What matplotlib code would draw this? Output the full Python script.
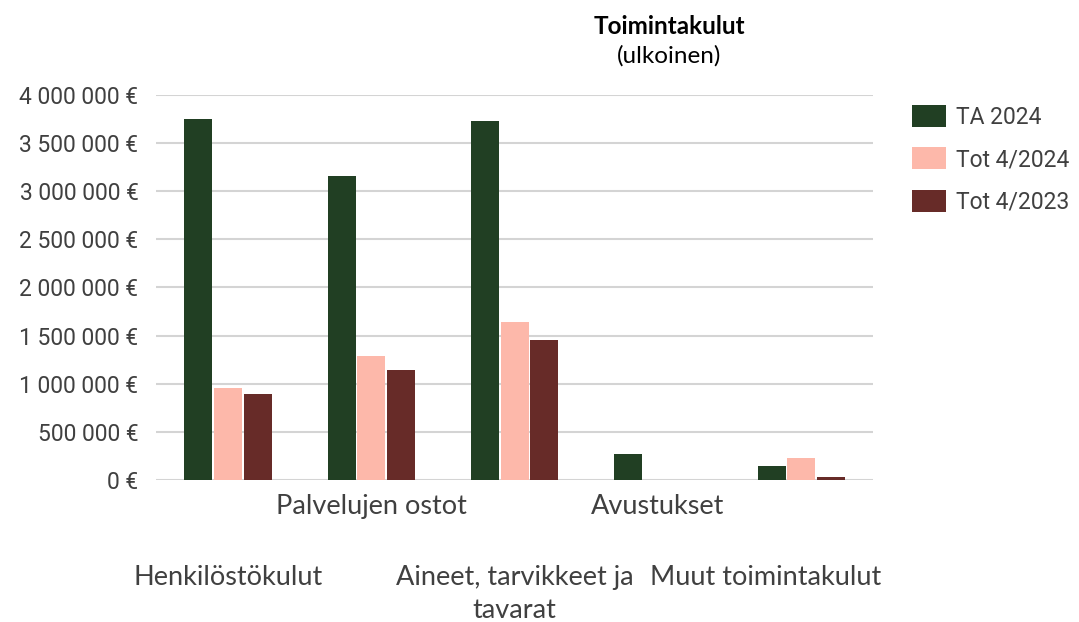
import numpy as np
import matplotlib
matplotlib.use('Agg')
import matplotlib.pyplot as plt
from matplotlib.ticker import FuncFormatter
from matplotlib.transforms import ScaledTranslation

# Tiedot (luettu kuvasta)
kategoriat = ['Henkilöstökulut', 'Palvelujen ostot', 'Aineet, tarvikkeet ja\ntavarat',
              'Avustukset', 'Muut toimintakulut']
sarjat = ['TA 2024', 'Tot 4/2024', 'Tot 4/2023']
ta_2024 = [3745000, 3160000, 3727000, 270000, 150000]
tot_2024 = [951000, 1286000, 1636000, 0, 232000]
tot_2023 = [892000, 1148000, 1459000, 0, 35000]
varit = ['#213F23', '#FDB8AA', '#672B28']

fig = plt.figure(figsize=(10.79, 6.22), dpi=100)
ax = fig.add_axes([0.145, 0.228, 0.664, 0.620])

x = np.arange(len(kategoriat))
w = 0.195
for i, (arvot, nimi) in enumerate(zip([ta_2024, tot_2024, tot_2023], sarjat)):
    ax.bar(x + (i - 1) * (w + 0.012), arvot, w, color=varit[i], label=nimi, zorder=3)

ax.set_xlim(-0.5, len(kategoriat) - 0.5)
ax.set_ylim(0, 4000000)
ax.set_yticks(np.arange(0, 4000001, 500000))
ax.yaxis.set_major_formatter(FuncFormatter(lambda v, p: f'{int(v):,}'.replace(',', ' ') + ' €'))
ax.grid(axis='y', color='#D4D4D4', linewidth=1.5, zorder=0)
for s in ax.spines.values():
    s.set_visible(False)
ax.tick_params(axis='y', length=0, pad=13, labelsize=16.5, labelcolor='#404040')
ax.tick_params(axis='x', length=0, labelsize=19.5, labelcolor='#404040')
for lab in ax.get_yticklabels():
    lab.set_family('Roboto')

ax.set_xticks(x)
ax.set_xticklabels(kategoriat, family='Lato', linespacing=1.4)
for i, t in enumerate(ax.xaxis.get_major_ticks()):
    t.set_pad(10 if i % 2 else 61)

# viimeinen otsikko siirtyy vasemmalle, kuten Excelissä
viimeinen = ax.get_xticklabels()[-1]
viimeinen.set_transform(viimeinen.get_transform() + ScaledTranslation(-0.36, 0, fig.dpi_scale_trans))

fig.text(0.620, 0.958, 'Toimintakulut', ha='center', va='center', fontsize=17.5,
         fontweight='bold', family='Lato')
fig.text(0.620, 0.911, '(ulkoinen)', ha='center', va='center', fontsize=17.5, family='Lato')

ax.legend(loc='upper left', bbox_to_anchor=(1.055, 0.972), frameon=False,
          prop={'family': 'Roboto', 'size': 16.5},
          handlelength=1.45, handleheight=1.1, labelspacing=0.8, handletextpad=0.45,
          borderpad=0, borderaxespad=0, labelcolor='#404040')

fig.savefig('out.png', dpi=100)
